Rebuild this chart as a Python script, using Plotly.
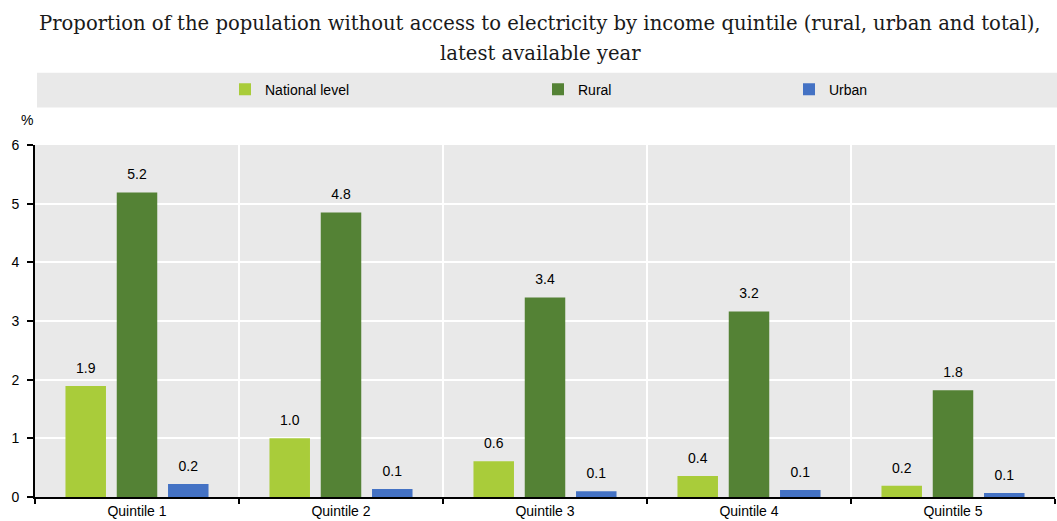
import plotly.graph_objects as go

categories = ["Quintile 1", "Quintile 2", "Quintile 3", "Quintile 4", "Quintile 5"]
national = [1.89, 1.0, 0.61, 0.36, 0.19]
rural = [5.19, 4.85, 3.40, 3.16, 1.82]
urban = [0.22, 0.135, 0.10, 0.12, 0.07]

series_names = ["National level", "Rural", "Urban"]
colors = ["#a9cc3a", "#548235", "#4472c4"]
title_lines = ["Proportion of the population without access to electricity by income quintile (rural, urban and total),",
               "latest available year"]

W, H = 1057, 521
L, R, T, B = 35, 2, 145, 20
pw = W - L - R
ph = H - T - B

def px_x(x):
    return (x - L) / pw

def px_y(y):
    return (H - B - y) / ph

tick_font = dict(family="Liberation Sans Narrow, Arial Narrow, Liberation Sans, Arial", size=14, color="#000000")
title_font = dict(family="DejaVu Serif, Liberation Serif, serif", size=19.6, color="#1a1a1a")

fig = go.Figure()
legends = ["legend", "legend2", "legend3"]
groups = ["n", "r", "u"]
for name, vals, col, lg, g in zip(series_names, [national, rural, urban], colors, legends, groups):
    fig.add_trace(go.Bar(
        x=categories, y=vals, name=name, marker=dict(color=col, line=dict(width=0)),
        offsetgroup=g, alignmentgroup="a",
        legend=lg, showlegend=True, hoverinfo="x+y+name",
    ))
for name, vals, lg, g in zip(series_names, [national, rural, urban], legends, groups):
    fig.add_trace(go.Scatter(
        x=categories, y=vals, mode="markers+text", offsetgroup=g, alignmentgroup="a",
        marker=dict(size=14, color="rgba(0,0,0,0)"),
        text=[f"{v:.1f}" for v in vals], textposition="top center", textfont=tick_font,
        cliponaxis=False, showlegend=False, hoverinfo="skip", legend=lg,
    ))

legend_common = dict(orientation="h", yanchor="middle", y=px_y(89), xanchor="left",
                     bgcolor="rgba(0,0,0,0)", font=tick_font, itemwidth=30)

fig.update_layout(
    width=W, height=H,
    margin=dict(l=L, r=R, t=T, b=B),
    paper_bgcolor="white", plot_bgcolor="#e9e9e9",
    showlegend=True,
    barmode="group", scattermode="group", bargap=0.246, bargroupgap=0.21,
    legend=dict(**legend_common, x=px_x(225)),
    legend2=dict(**legend_common, x=px_x(538)),
    legend3=dict(**legend_common, x=px_x(789)),
    xaxis=dict(type="category", tickson="boundaries", showgrid=True, gridcolor="white", gridwidth=2,
               ticks="outside", ticklen=5, tickcolor="black", tickwidth=2,
               showline=True, linecolor="black", linewidth=2, tickfont=tick_font),
    yaxis=dict(range=[0, 6], dtick=1, showgrid=True, gridcolor="white", gridwidth=2,
               ticks="outside", ticklen=6, tickcolor="black", tickwidth=2, ticklabelstandoff=5,
               showline=True, linecolor="black", linewidth=2, tickfont=tick_font, zeroline=False),
    shapes=[dict(type="rect", xref="paper", yref="paper", x0=px_x(37), x1=px_x(1057),
                 y0=px_y(107), y1=px_y(72), fillcolor="#e9e9e9", line=dict(width=0), layer="below")],
    annotations=[
        dict(text="%", xref="paper", yref="paper", x=px_x(27), y=px_y(120),
             showarrow=False, font=tick_font, xanchor="center", yanchor="middle"),
        dict(text=title_lines[0], xref="paper", yref="paper", x=px_x(540), y=px_y(22),
             showarrow=False, font=title_font, xanchor="center", yanchor="middle"),
        dict(text=title_lines[1], xref="paper", yref="paper", x=px_x(540), y=px_y(52),
             showarrow=False, font=title_font, xanchor="center", yanchor="middle"),
    ],
)

fig.write_html("out.html", config={"displayModeBar": False},
               post_script="document.body.style.margin='0px';document.body.style.overflow='hidden';")
